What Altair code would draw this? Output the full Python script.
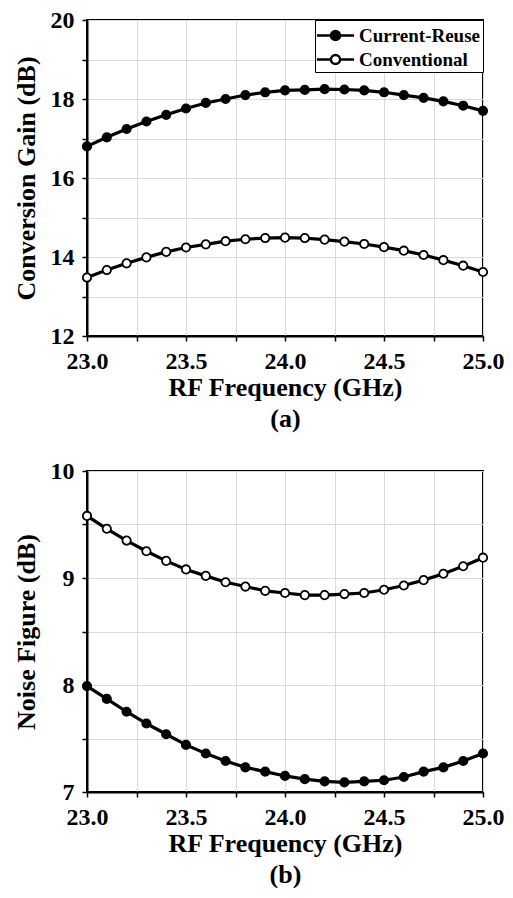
import altair as alt
import pandas as pd

freq = [23.0, 23.1, 23.2, 23.3, 23.4, 23.5, 23.6, 23.7, 23.8, 23.9, 24.0,
        24.1, 24.2, 24.3, 24.4, 24.5, 24.6, 24.7, 24.8, 24.9, 25.0]

gain_reuse = [16.80, 17.03, 17.24, 17.43, 17.60, 17.76, 17.90, 18.00, 18.10, 18.17, 18.22,
              18.23, 18.25, 18.24, 18.22, 18.17, 18.10, 18.03, 17.94, 17.83, 17.70]
gain_conv = [13.48, 13.67, 13.84, 13.99, 14.13, 14.24, 14.32, 14.40, 14.45, 14.48, 14.49,
             14.48, 14.44, 14.39, 14.33, 14.25, 14.16, 14.05, 13.92, 13.78, 13.62]

nf_reuse = [7.99, 7.87, 7.75, 7.64, 7.54, 7.44, 7.36, 7.29, 7.23, 7.19, 7.15,
            7.12, 7.10, 7.09, 7.10, 7.11, 7.14, 7.19, 7.23, 7.29, 7.36]
nf_conv = [9.58, 9.46, 9.35, 9.25, 9.16, 9.08, 9.02, 8.96, 8.92, 8.88, 8.86,
           8.84, 8.84, 8.85, 8.86, 8.89, 8.93, 8.98, 9.04, 9.11, 9.19]

series_names = ["Current-Reuse", "Conventional"]
x_ticks = [23.0, 23.25, 23.5, 23.75, 24.0, 24.25, 24.5, 24.75, 25.0]
gain_ticks = [12, 13, 14, 15, 16, 17, 18, 19, 20]
nf_ticks = [7, 7.5, 8, 8.5, 9, 9.5, 10]

FONT = "Liberation Serif"


def make_df(a, b):
    rows = []
    for f, v in zip(freq, a):
        rows.append({"freq": f, "value": v, "series": series_names[0]})
    for f, v in zip(freq, b):
        rows.append({"freq": f, "value": v, "series": series_names[1]})
    return pd.DataFrame(rows)


LEG_PATH = ("M-1.55,0L-0.38,0M0.38,0L1.55,0"
            "M0.38,0A0.38,0.38,0,1,1,-0.38,0A0.38,0.38,0,1,1,0.38,0Z")


def panel(df, ydom, yticks, ylabel_step, ytitle, label, h):
    x = alt.X("freq:Q", scale=alt.Scale(domain=[23, 25], nice=False),
              axis=alt.Axis(values=x_ticks,
                            labelExpr="datum.value % 0.5 == 0 ? format(datum.value, '.1f') : ''",
                            labelFlush=False,
                            title=["RF Frequency (GHz)", label],
                            titleLineHeight=31, titlePadding=1, labelPadding=8))
    y = alt.Y("value:Q", scale=alt.Scale(domain=ydom, nice=False, zero=False),
              axis=alt.Axis(values=yticks,
                            labelExpr=f"datum.value % {ylabel_step} == 0 ? format(datum.value, 'd') : ''",
                            title=ytitle, titlePadding=11, labelPadding=8))
    line = alt.Chart(df).mark_line(color="black", strokeWidth=3.2).encode(
        x=x, y=y, detail="series:N")
    pts = alt.Chart(df).mark_point(filled=False, shape="circle", size=70,
                                   stroke="black", strokeWidth=1.8, opacity=1).encode(
        x=x, y=y,
        fill=alt.Fill("series:N",
                      scale=alt.Scale(domain=series_names, range=["black", "white"]),
                      legend=alt.Legend(orient="top-right", offset=0, title=None,
                                        strokeColor="black", fillColor="white",
                                        padding=2, rowPadding=0,
                                        symbolType=LEG_PATH, symbolSize=576,
                                        symbolOffset=5,
                                        symbolStrokeColor="black", symbolStrokeWidth=2.5,
                                        labelFont=FONT, labelFontSize=19,
                                        labelFontWeight="bold", labelOffset=10)))
    return alt.layer(line, pts).properties(width=396, height=h)


chart_a = panel(make_df(gain_reuse, gain_conv), [12, 20], gain_ticks, 2,
                "Conversion Gain (dB)", "(a)", 316)
chart_b = panel(make_df(nf_reuse, nf_conv), [7, 10], nf_ticks, 1,
                "Noise Figure (dB)", "(b)", 321)

chart = alt.vconcat(chart_a, chart_b, spacing=26).configure_view(
    stroke="black", strokeWidth=2
).configure_axis(
    labelFont=FONT, labelFontSize=24, labelFontWeight="bold", labelColor="black",
    titleFont=FONT, titleFontSize=26, titleFontWeight="bold", titleColor="black",
    domainColor="black", domainWidth=2, tickColor="black", tickWidth=1.5, tickSize=5,
    gridColor="#dadada", gridWidth=1
).properties(padding={"left": 4, "top": -1, "right": 0, "bottom": 0})

chart.save("out.html", embed_options={"renderer": "svg", "actions": False})
